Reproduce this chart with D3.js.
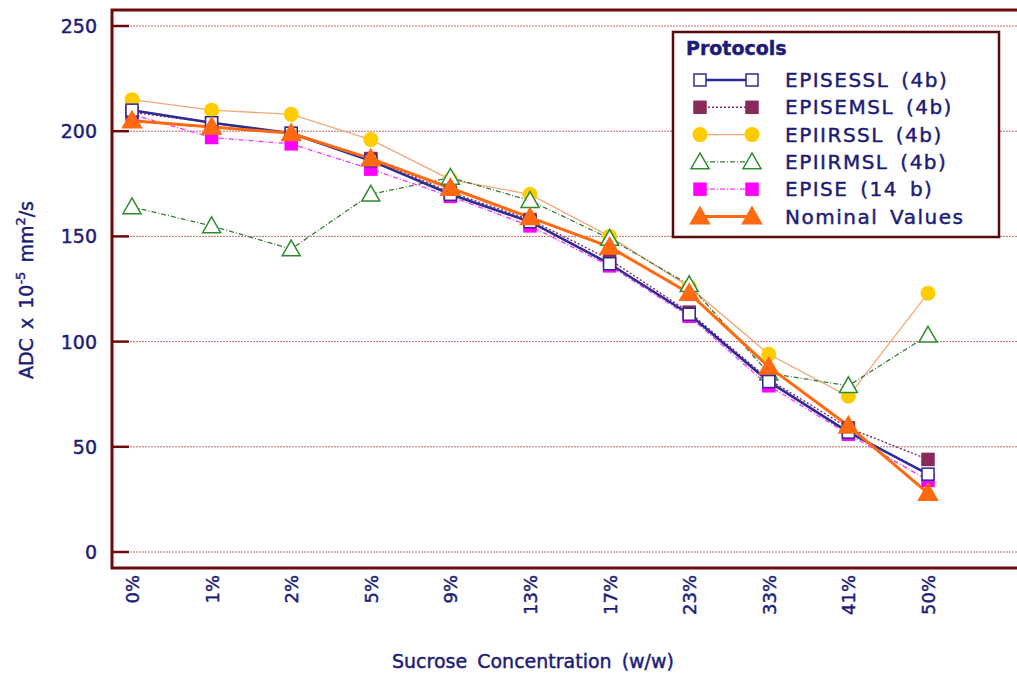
<!DOCTYPE html>
<html>
<head>
<meta charset="utf-8">
<script src="https://cdn.jsdelivr.net/npm/d3@7"></script>
<style>
  html, body { margin: 0; padding: 0; background: #fff; }
  svg { display: block; }
  text { font-family: "DejaVu Sans", sans-serif; fill: #1c1c78; stroke: #1c1c78; stroke-width: 0.45px; }
</style>
</head>
<body>
<svg id="chart" width="1017" height="679"></svg>
<script>
const categories = ['0%', '1%', '2%', '5%', '9%', '13%', '17%', '23%', '33%', '41%', '50%'];
const yTicks = [0, 50, 100, 150, 200, 250];

const episessl = [210, 204, 199, 186, 170, 157, 137, 113, 81, 57, 37];
const episemsl = [209, 204, 199, 187, 171, 158, 139, 114, 82, 59, 44];
const epiirssl = [215, 210, 208, 196, 177, 170, 150, 126, 94, 74, 123];
const epiirmsl = [164, 155, 144, 170, 178, 167, 149, 127, 85, 79, 103];
const epise = [208, 197, 194, 182, 169, 155, 136, 112, 79, 56, 34];
const nominal = [205, 202, 199, 187, 173, 159, 145, 123, 88, 60, 28];

const seriesNames = ['EPISESSL (4b)', 'EPISEMSL (4b)', 'EPIIRSSL (4b)', 'EPIIRMSL (4b)', 'EPISE (14 b)', 'Nominal Values'];

// drawing order: back to front
const series = [
    { name: seriesNames[2], values: epiirssl, line: '#f4a878', width: 1.3, dash: null, marker: 'circle', fill: '#ffcc00', stroke: '#ffcc00', size: 7.5 },
    { name: seriesNames[3], values: epiirmsl, line: '#3a7a3a', width: 1.3, dash: '5,2,1,2', marker: 'triangle', fill: '#fff', stroke: '#2e8b2e', size: 9 },
    { name: seriesNames[4], values: epise, line: '#ff33ff', width: 1.3, dash: '5,2,1,2', marker: 'square', fill: '#ff00ff', stroke: '#ff00ff', size: 6 },
    { name: seriesNames[1], values: episemsl, line: '#8a2a5a', width: 1.4, dash: '2,2', marker: 'square', fill: '#8a2a5a', stroke: '#8a2a5a', size: 6 },
    { name: seriesNames[0], values: episessl, line: '#2c2c96', width: 2.6, dash: null, marker: 'square', fill: '#fff', stroke: '#2c2c96', size: 6 },
    { name: seriesNames[5], values: nominal, line: '#ff6a10', width: 3, dash: null, marker: 'triangle', fill: '#ff6a10', stroke: '#ff6a10', size: 9.5 }
];
const legendOrder = [4, 3, 0, 1, 2, 5];

const svg = d3.select('#chart');
const frameLeft = 112, frameBottom = 568, frameTop = 10;

const x = d3.scalePoint().domain(categories).range([132, 928]);
const y = d3.scaleLinear().domain([0, 250]).range([552, 26]);

// grid lines
svg.append('g')
    .selectAll('line')
    .data(yTicks)
    .enter()
    .append('line')
    .attr('x1', frameLeft)
    .attr('x2', 1017)
    .attr('y1', d => y(d))
    .attr('y2', d => y(d))
    .attr('stroke', '#b86a6a')
    .attr('stroke-width', 1)
    .attr('stroke-dasharray', '2,1');

// inner tick marks
svg.append('g')
    .selectAll('line')
    .data(yTicks)
    .enter()
    .append('line')
    .attr('x1', frameLeft)
    .attr('x2', frameLeft + 17)
    .attr('y1', d => y(d))
    .attr('y2', d => y(d))
    .attr('stroke', '#6e0a0a')
    .attr('stroke-width', 2.5);

// frame
svg.append('path')
    .attr('d', `M1030,${frameTop}H${frameLeft}V${frameBottom}H1030`)
    .attr('fill', 'none')
    .attr('stroke', '#6e0a0a')
    .attr('stroke-width', 3);

// y tick labels
svg.append('g')
    .selectAll('text')
    .data(yTicks)
    .enter()
    .append('text')
    .attr('x', 97)
    .attr('y', d => y(d) + 7)
    .attr('text-anchor', 'end')
    .style('font-size', '19px')
    .text(d => d);

// x tick labels
svg.append('g')
    .selectAll('text')
    .data(categories)
    .enter()
    .append('text')
    .attr('transform', d => `translate(${x(d) + 7},575) rotate(-90)`)
    .attr('text-anchor', 'end')
    .style('font-size', '18px')
    .text(d => d);

// axis titles
svg.append('text')
    .attr('x', 392)
    .attr('y', 668)
    .style('font-size', '19px')
    .style('word-spacing', '4px')
    .text('Sucrose Concentration (w/w)');

const yTitle = svg.append('text')
    .attr('transform', 'translate(33,290) rotate(-90)')
    .attr('text-anchor', 'middle')
    .style('font-size', '19px')
    .style('word-spacing', '3px');
yTitle.append('tspan').text('ADC x 10');
yTitle.append('tspan').attr('dy', -8).style('font-size', '13px').text('-5');
yTitle.append('tspan').attr('dy', 8).text(' mm');
yTitle.append('tspan').attr('dy', -8).style('font-size', '13px').text('2');
yTitle.append('tspan').attr('dy', 8).text('/s');

// markers
const drawMarker = (g, s, cx, cy) => {
    if (s.marker === 'circle') {
        g.append('circle')
            .attr('cx', cx).attr('cy', cy).attr('r', s.size)
            .attr('fill', s.fill);
    } else if (s.marker === 'square') {
        g.append('rect')
            .attr('x', cx - s.size).attr('y', cy - s.size)
            .attr('width', s.size * 2).attr('height', s.size * 2)
            .attr('fill', s.fill).attr('stroke', s.stroke).attr('stroke-width', 1.5);
    } else {
        const r = s.size;
        g.append('path')
            .attr('d', `M${cx},${cy - r}L${cx + r},${cy + r * 0.75}L${cx - r},${cy + r * 0.75}Z`)
            .attr('fill', s.fill).attr('stroke', s.stroke).attr('stroke-width', 1.5);
    }
};

const line = d3.line()
    .x((d, i) => x(categories[i]))
    .y(d => y(d));

series.forEach(s => {
    svg.append('path')
        .datum(s.values)
        .attr('d', line)
        .attr('fill', 'none')
        .attr('stroke', s.line)
        .attr('stroke-width', s.width)
        .attr('stroke-dasharray', s.dash);
});
series.forEach(s => {
    const g = svg.append('g');
    s.values.forEach((v, i) => drawMarker(g, s, x(categories[i]), y(v)));
});

// legend
const legend = svg.append('g');
legend.append('rect')
    .attr('x', 673)
    .attr('y', 32)
    .attr('width', 326)
    .attr('height', 205)
    .attr('fill', '#fff')
    .attr('stroke', '#5a0a0a')
    .attr('stroke-width', 2.5);
legend.append('text')
    .attr('x', 686)
    .attr('y', 55)
    .style('font-size', '19px')
    .style('font-weight', 'bold')
    .text('Protocols');

legendOrder.forEach((si, row) => {
    const s = series[si];
    const cy = 80 + row * 27.3;
    const g = legend.append('g');
    g.append('line')
        .attr('x1', 700).attr('x2', 752)
        .attr('y1', cy).attr('y2', cy)
        .attr('stroke', s.line)
        .attr('stroke-width', s.width)
        .attr('stroke-dasharray', s.dash);
    drawMarker(g, s, 700, cy);
    drawMarker(g, s, 752, cy);
    g.append('text')
        .attr('x', 785)
        .attr('y', cy + 7)
        .style('font-size', '20px')
        .style('letter-spacing', '1.5px')
        .style('word-spacing', '4px')
        .text(s.name);
});
</script>
</body>
</html>
